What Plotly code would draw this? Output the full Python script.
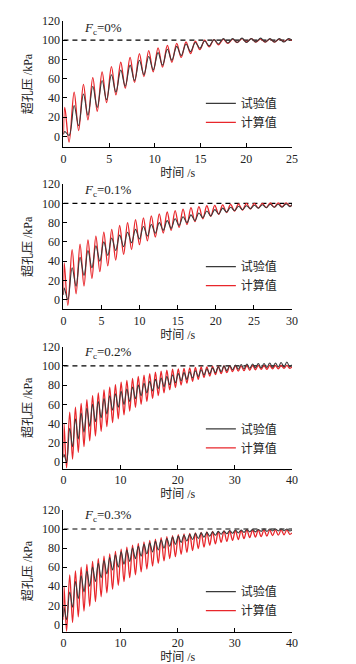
import plotly.graph_objects as go

# ---------------- data (extrema) ----------------
# Panel 1: Fc = 0%
p1_peak_t = [0.15, 1.17, 2.19, 3.21, 4.23, 5.25, 6.27, 7.29, 8.31, 9.33, 10.35, 11.37, 12.39,
             13.41, 14.43, 15.45, 16.47, 17.49, 18.51, 19.53, 20.55, 21.57, 22.59, 23.61, 24.63]
p1_trough_t = [0.62, 1.66, 2.68, 3.70, 4.72, 5.74, 6.76, 7.78, 8.80, 9.82, 10.84, 11.86, 12.88,
               13.90, 14.92, 15.94, 16.96, 17.98, 19.00, 20.02, 21.04, 22.06, 23.08, 24.10]
p1_ends_t = [0.0, 25.0]
p1_red_peak = [30, 46, 54, 61, 67, 72.5, 77, 82, 86, 89, 92, 94.5, 96.5, 98, 99, 100, 100.5, 101,
               101, 101.5, 101.5, 101, 101, 101, 101]
p1_red_trough = [-6, 6, 17, 26, 35, 43, 50, 56, 62, 67, 72, 77, 82, 86, 90, 93, 95, 96.5, 97.5,
                 98, 98, 98, 98, 98.5]
p1_red_ends = [2, 99.5]
p1_blk_peak = [5, 32, 44, 52, 58, 64, 69, 74, 79, 83, 87, 90.5, 93.5, 96, 97.5, 99, 100.5, 101.5,
               101.5, 102, 101.5, 102, 101.5, 101.5, 101.5]
p1_blk_trough = [1, 11, 22, 30, 38, 46, 52, 58, 64, 69, 74, 79, 84, 88, 91.5, 94, 96, 97, 97.5,
                 97.5, 98, 98, 98, 98]
p1_blk_ends = [2, 100]

# Panel 2: Fc = 0.1%
p2_peak_t = [0.10, 1.14, 2.18, 3.22, 4.26, 5.30, 6.34, 7.38, 8.42, 9.46, 10.50, 11.54, 12.58,
             13.62, 14.66, 15.70, 16.74, 17.78, 18.82, 19.86, 20.90, 21.94, 22.98, 24.02, 25.06,
             26.10, 27.14, 28.18, 29.22]
p2_trough_t = [0.58, 1.66, 2.70, 3.74, 4.78, 5.82, 6.86, 7.90, 8.94, 9.98, 11.02, 12.06, 13.10,
               14.14, 15.18, 16.22, 17.26, 18.30, 19.34, 20.38, 21.42, 22.46, 23.50, 24.54,
               25.58, 26.62, 27.66, 28.70, 29.74]
p2_ends_t = [0.0, 30.0]
p2_red_peak = [38, 52, 57.5, 62, 66, 70, 73, 77, 80, 83, 85, 87, 89, 91, 92.5, 94, 95.5, 96.5,
               97.5, 98, 98.5, 99, 99.5, 100, 100, 100, 100.5, 100.5, 100.5]
p2_red_trough = [-6, 6, 14, 22, 29, 35, 41, 47, 52, 57, 61, 65, 69, 72, 75, 78, 81, 84, 86.5,
                 88.5, 90.5, 92, 93, 94, 95, 95.5, 96, 96.5, 97]
p2_red_ends = [5, 98]
p2_blk_peak = [12, 33, 44, 51, 56, 60, 64, 67, 70, 73, 76, 78, 80, 82, 84, 86, 88, 90, 92, 93.5,
               95, 96, 97, 97.5, 98, 98.5, 99, 99, 99.5]
p2_blk_trough = [0, 14, 25, 33, 40, 46, 51, 55, 59, 63, 66, 69, 72, 74, 77, 80, 82, 85, 87, 89,
                 91, 92.5, 93.5, 94.5, 95, 95.5, 96, 96, 96.5]
p2_blk_ends = [5, 99]

# Panel 3: Fc = 0.2%
p3_peak_t = [0.1, 1.1, 2.1, 3.1, 4.1, 5.1, 6.1, 7.1, 8.1, 9.1, 10.1, 11.1, 12.1, 13.1, 14.1,
             15.1, 16.1, 17.1, 18.1, 19.1, 20.1, 21.1, 22.1, 23.1, 24.1, 25.1, 26.1, 27.1, 28.1,
             29.1, 30.1, 31.1, 32.1, 33.1, 34.1, 35.1, 36.1, 37.1, 38.1, 39.1]
p3_trough_t = [0.55, 1.6, 2.6, 3.6, 4.6, 5.6, 6.6, 7.6, 8.6, 9.6, 10.6, 11.6, 12.6, 13.6, 14.6,
               15.6, 16.6, 17.6, 18.6, 19.6, 20.6, 21.6, 22.6, 23.6, 24.6, 25.6, 26.6, 27.6,
               28.6, 29.6, 30.6, 31.6, 32.6, 33.6, 34.6, 35.6, 36.6, 37.6, 38.6, 39.6]
p3_ends_t = [0.0, 40.0]
p3_red_peak = [40, 52, 57, 61, 65, 69, 72, 75, 78, 80.5, 83, 85, 87, 89, 90.5, 92, 93.5, 94.5,
               95.5, 96.5, 97, 97.5, 98, 98.5, 99, 99, 99.5, 99.5, 100, 100, 100, 100, 100.5,
               100.5, 100.5, 100.5, 100.5, 100.5, 100.5, 100.5]
p3_red_trough = [-6, 3, 10, 16, 22, 27, 32, 37, 41, 45, 49, 53, 57, 60, 63, 66, 69, 72, 75,
                 77.5, 80, 82, 84, 86, 88, 89.5, 91, 92, 93, 94, 94.5, 95, 95.5, 96, 96.5, 96.5,
                 97, 97, 97.5, 97.5]
p3_red_ends = [5, 99]
p3_blk_peak = [8, 35, 45, 51, 56, 60, 63, 66, 69, 71, 73.5, 76, 78, 80, 82, 84, 86, 87.5, 89,
               90.5, 92, 93, 94, 95, 96, 97, 98, 99, 100, 100.5, 101, 101.5, 102, 102, 102.5,
               102.5, 103, 103, 103.5, 104]
p3_blk_trough = [0, 16, 24, 31, 37, 42, 46, 50, 54, 57, 60, 63, 66, 69, 72, 74, 76.5, 78.5,
                 80.5, 82.5, 84.5, 86, 87.5, 89, 90.5, 92, 93, 94, 95, 96, 96.5, 97, 97.5, 98,
                 98, 98.5, 98.5, 99, 99, 99]
p3_blk_ends = [5, 101]

# Panel 4: Fc = 0.3%
p4_peak_t = p3_peak_t
p4_trough_t = p3_trough_t
p4_ends_t = [0.0, 40.0]
p4_red_peak = [40, 52, 56, 60, 63, 66, 69, 71.5, 74, 76.5, 79, 81, 83, 85, 86.5, 88, 89.5, 91,
               92, 93, 94, 95, 95.5, 96, 96.5, 97, 97.5, 97.5, 98, 98, 98.5, 98.5, 99, 99, 99,
               99, 99, 99, 99, 99]
p4_red_trough = [-7, 2, 8, 14, 19, 24, 29, 33, 37, 41, 45, 49, 52, 55, 58, 61, 64, 66.5, 69,
                 71, 73.5, 75.5, 77.5, 79.5, 81, 83, 84.5, 86, 87, 88, 89, 90, 91, 91.5, 92,
                 92.5, 93, 93.5, 94, 94.5]
p4_red_ends = [5, 96]
p4_blk_peak = [18, 34, 45, 51, 56, 60, 64, 67, 70, 73, 76, 78, 80, 82, 84, 85.5, 87, 88.5, 90,
               91.5, 92.5, 93.5, 94.5, 95.5, 96, 96.5, 97, 97.5, 98, 98.5, 99, 99, 99.5, 99.5,
               99.5, 100, 100, 100, 100, 100]
p4_blk_trough = [5, 18, 27, 34, 40, 45, 49, 53, 57, 60, 63, 66, 69, 71.5, 74, 76, 78, 80, 82,
                 84, 86, 87.5, 89, 90, 91.5, 92.5, 93.5, 94.5, 95, 95.5, 96, 96.5, 97, 97,
                 97.5, 97.5, 98, 98, 98, 98]
p4_blk_ends = [8, 99]

fc_labels = ["0%", "0.1%", "0.2%", "0.3%"]
x_max = [25, 30, 40, 40]
x_dtick = [5, 5, 10, 10]
ref_level = 100
legend_names = ["试验值", "计算值"]
y_tick_vals = [0, 20, 40, 60, 80, 100, 120]

panels = [
    (p1_peak_t, p1_trough_t, p1_ends_t, p1_red_peak, p1_red_trough, p1_red_ends,
     p1_blk_peak, p1_blk_trough, p1_blk_ends),
    (p2_peak_t, p2_trough_t, p2_ends_t, p2_red_peak, p2_red_trough, p2_red_ends,
     p2_blk_peak, p2_blk_trough, p2_blk_ends),
    (p3_peak_t, p3_trough_t, p3_ends_t, p3_red_peak, p3_red_trough, p3_red_ends,
     p3_blk_peak, p3_blk_trough, p3_blk_ends),
    (p4_peak_t, p4_trough_t, p4_ends_t, p4_red_peak, p4_red_trough, p4_red_ends,
     p4_blk_peak, p4_blk_trough, p4_blk_ends),
]


def merge(pt, tt, et, pv, tv, ev):
    pts = sorted(list(zip(pt, pv)) + list(zip(tt, tv)) + list(zip(et, ev)))
    return [p[0] for p in pts], [p[1] for p in pts]


# ---------------- layout geometry (page pixels) ----------------
W, H = 356, 664


def fx(px):
    return px / W


def fy(py):
    return 1 - py / H


x_dom = [fx(62), fx(296.5)]
y_doms = [[fy(141.7), fy(14)],
          [fy(305.7), fy(179)],
          [fy(466.7), fy(343.3)],
          [fy(631.7), fy(508.3)]]
y_lows = [-11.3, -10.3, -7.0, -8.0]
fc_y = [21.7, 185, 349.3, 514]
leg_y = [107, 272, 436, 600.5]

SERIF = "Liberation Serif, Times New Roman, serif"
MIX = "Liberation Serif, Noto Sans CJK SC, serif"
RED = "#e8262b"
BLK = "#3a3a3a"

fig = go.Figure()
layout = dict(width=W, height=H, margin=dict(l=0, r=0, t=0, b=0),
              paper_bgcolor="white", plot_bgcolor="white", showlegend=True,
              annotations=[])

for i, pdata in enumerate(panels):
    pt, tt, et, rp, rt, re_, bp, bt, be = pdata
    sfx = "" if i == 0 else str(i + 1)
    xa, ya = "x" + sfx, "y" + sfx
    leg = "legend" + sfx
    rx, ry = merge(pt, tt, et, rp, rt, re_)
    bx, by = merge(pt, tt, et, bp, bt, be)
    fig.add_trace(go.Scatter(x=[0, x_max[i]], y=[ref_level, ref_level], mode="lines",
                             line=dict(color="black", width=1.2, dash="5px,4px"),
                             showlegend=False, xaxis=xa, yaxis=ya, hoverinfo="skip"))
    fig.add_trace(go.Scatter(x=rx, y=ry, mode="lines", name=legend_names[1],
                             line=dict(color=RED, width=1.3, shape="spline", smoothing=1.0),
                             xaxis=xa, yaxis=ya, legend=leg, legendrank=2))
    fig.add_trace(go.Scatter(x=bx, y=by, mode="lines", name=legend_names[0],
                             line=dict(color=BLK, width=1.1, shape="spline", smoothing=1.0),
                             xaxis=xa, yaxis=ya, legend=leg, legendrank=1))
    layout["xaxis" + sfx] = dict(
        domain=x_dom, anchor=ya, range=[0, x_max[i]], dtick=x_dtick[i], tick0=0,
        showline=True, linecolor="black", linewidth=1, ticks="inside", ticklen=4,
        tickcolor="black", showgrid=False, zeroline=False,
        tickfont=dict(family=SERIF, size=12, color="#222"),
        title=dict(text="时间 /s", font=dict(family=MIX, size=12, color="#222"), standoff=1))
    layout["yaxis" + sfx] = dict(
        domain=y_doms[i], anchor=xa, range=[y_lows[i], 120], tickvals=y_tick_vals,
        showline=True, linecolor="black", linewidth=1, ticks="inside", ticklen=4,
        tickcolor="black", showgrid=False, zeroline=False,
        tickfont=dict(family=SERIF, size=12, color="#222"),
        title=dict(text="超孔压 /kPa", font=dict(family=MIX, size=12, color="#222"), standoff=6))
    layout[leg] = dict(x=fx(203), xanchor="left", y=fy(leg_y[i]), yanchor="middle",
                       bgcolor="rgba(0,0,0,0)", borderwidth=0, tracegroupgap=0,
                       itemwidth=30, font=dict(family=MIX, size=12, color="#222"))
    layout["annotations"].append(dict(
        text="<i>F</i><sub>c</sub>=" + fc_labels[i], xref="paper", yref="paper",
        x=fx(81), xanchor="left", y=fy(fc_y[i]), yanchor="middle", showarrow=False,
        font=dict(family=SERIF, size=13, color="#222")))

fig.update_layout(**layout)
fig.write_html("out.html",
               config={"displayModeBar": False, "staticPlot": True},
               post_script="document.body.style.margin='0';"
                           "document.body.style.overflow='hidden';")
